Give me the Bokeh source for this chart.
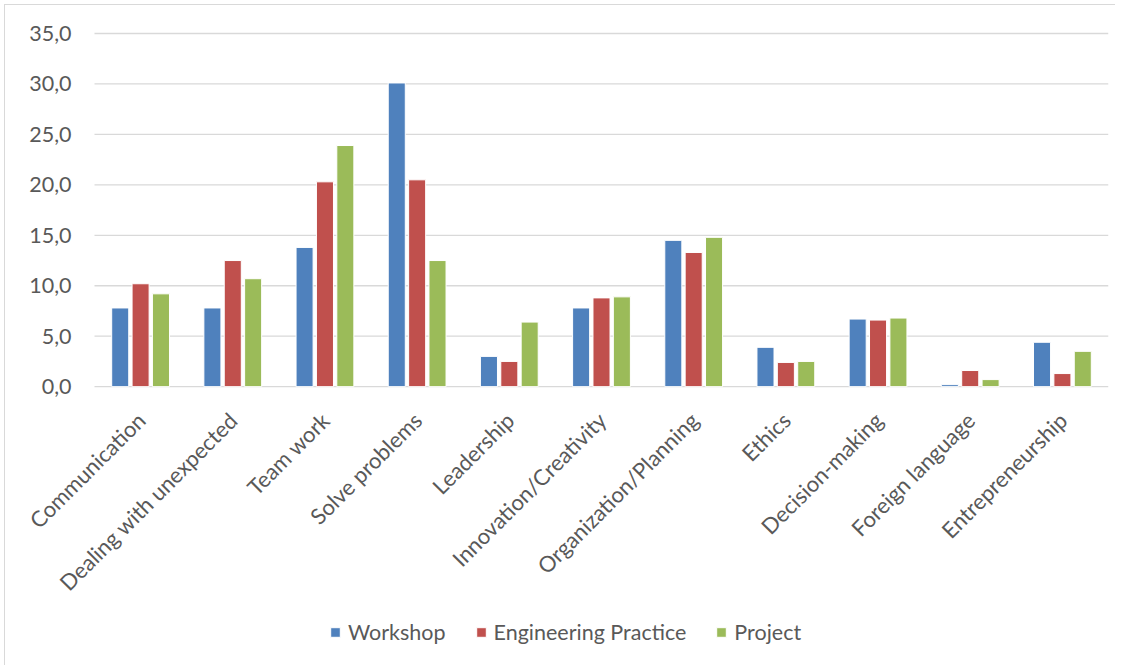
from bokeh.plotting import figure
from bokeh.models import ColumnDataSource, Range1d, Legend, LegendItem
from bokeh.core.properties import value
from bokeh.transform import dodge
from bokeh.embed import file_html
from bokeh.resources import INLINE
import math

categories = ["Communication", "Dealing with unexpected", "Team work", "Solve problems",
              "Leadership", "Innovation/Creativity", "Organization/Planning", "Ethics",
              "Decision-making", "Foreign language", "Entrepreneurship"]
workshop = [7.8, 7.8, 13.8, 30.1, 3.0, 7.8, 14.5, 3.9, 6.7, 0.2, 4.4]
engineering = [10.2, 12.5, 20.3, 20.5, 2.5, 8.8, 13.3, 2.4, 6.6, 1.6, 1.3]
project = [9.2, 10.7, 23.9, 12.5, 6.4, 8.9, 14.8, 2.5, 6.8, 0.7, 3.5]
series_names = ["Workshop", "Engineering Practice", "Project"]
y_ticks = [0, 5, 10, 15, 20, 25, 30, 35]
y_tick_labels = [f"{t:.1f}".replace(".", ",") for t in y_ticks]

colors = ["#4F81BD", "#C0504D", "#9BBB59"]
FONT = "Lato"
TXT = "#595959"
GRID = "#D9D9D9"
FS = "21.5px"

n = len(categories)
src = ColumnDataSource(dict(cat=categories, xc=[i + 0.5 for i in range(n)],
                            w=workshop, e=engineering, p=project, zero=[0] * n))
grid_src = ColumnDataSource(dict(y=y_ticks, lab=y_tick_labels,
                                 x0=[0] * len(y_ticks), x1=[n] * len(y_ticks)))

# frame covers the whole chart area so labels and legend are drawn inside it
px_per_unit = 10.09
top_room = 16
y_top = 35.2 + top_room / px_per_unit
frame_h = 634 + top_room
y_bottom = y_top - frame_h / px_per_unit
frame_w = 1103
left_pad = 89 / (1014 / n)          # room for value labels left of the first category
x_left = -left_pad

p = figure(x_range=Range1d(x_left, n), y_range=Range1d(y_bottom, y_top),
           frame_width=frame_w, frame_height=frame_h, output_backend="svg", toolbar_location=None,
           x_axis_location=None, y_axis_location=None,
           min_border_left=0, min_border_right=7, min_border_top=26 - top_room, min_border_bottom=0)
p.outline_line_color = None
p.styles = {"border-left": "1px solid #D9D9D9", "border-top": "1px solid #D9D9D9",
            "margin-left": "4px", "margin-top": "4px"}
for g in p.grid:
    g.visible = False

# horizontal gridlines and value labels
p.segment(x0="x0", x1="x1", y0="y", y1="y", source=grid_src, line_color=GRID, line_width=1.3)
p.text(x="x0", y="y", text="lab", source=grid_src, x_offset=-23,
       text_align="right", text_baseline="middle",
       text_font=value(FONT), text_font_size=value(FS), text_color=TXT)

bw = 0.185
step = 0.221
renderers = []
for col, off, c in zip(["w", "e", "p"], [-step, 0, step], colors):
    r = p.vbar(x=dodge("xc", off), top=col, width=bw, source=src,
               fill_color=c, line_color="white", line_width=1)
    renderers.append(r)

# category labels, rotated 45 degrees, hanging below the baseline
p.text(x="xc", y="zero", text="cat", source=src, angle=math.pi / 4,
       text_align="right", text_baseline="top", x_offset=-9, y_offset=20,
       text_font=value(FONT), text_font_size=value("22px"), text_color=TXT)

legend = Legend(items=[LegendItem(label=nm, renderers=[r]) for nm, r in zip(series_names, renderers)],
                orientation="horizontal", location=(324, 20))
legend.label_text_font = FONT
legend.label_text_font_size = FS
legend.label_text_color = TXT
legend.glyph_width = 12
legend.glyph_height = 12
legend.label_standoff = 7
legend.spacing = 29
legend.border_line_color = None
legend.background_fill_alpha = 0
legend.margin = 0
legend.padding = 0
p.add_layout(legend, "center")

open("out.html", "w").write(file_html(p, INLINE))
